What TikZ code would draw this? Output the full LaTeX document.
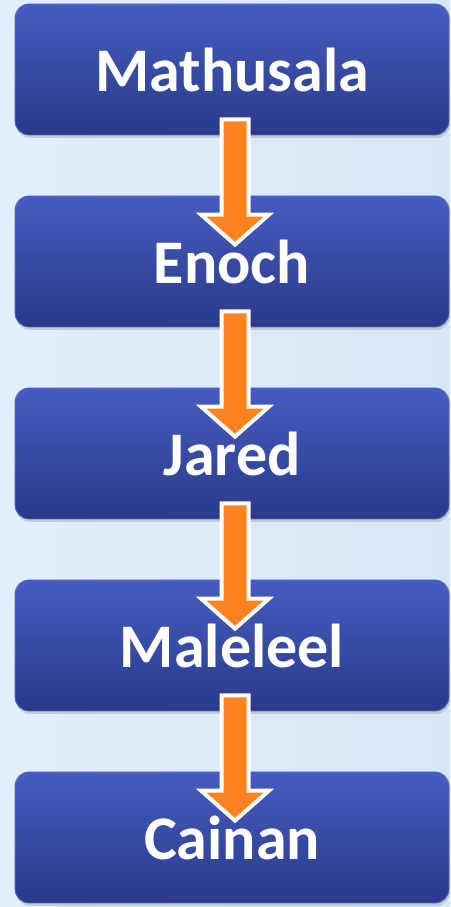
\documentclass[tikz,border=0pt]{standalone}
\usepackage{fontspec}
\setmainfont{Carlito}
\usetikzlibrary{calc,shadows}

\definecolor{fondoizq}{RGB}{226,239,251}
\definecolor{fondomedio}{RGB}{247,250,254}
\definecolor{fondoder}{RGB}{214,232,248}
\definecolor{cajaarriba}{RGB}{69,92,192}
\definecolor{cajaabajo}{RGB}{42,58,138}
\definecolor{cajaborde}{RGB}{86,106,200}
\definecolor{naranja}{RGB}{253,130,32}

\begin{document}
\begin{tikzpicture}[x=1pt,y=1pt,
    caja/.style={
      minimum width=434pt,
      minimum height=131pt,
      rounded corners=14pt,
      top color=cajaarriba,
      bottom color=cajaabajo,
      draw=cajaborde,
      line width=0.8pt,
      drop shadow={shadow xshift=1pt, shadow yshift=-3pt, opacity=0.3},
      text=white,
      font=\bfseries\fontsize{62}{70}\selectfont
    },
    flecha/.style={fill=naranja, draw=white, line width=4pt, line join=miter}]
  % fondo
  \shade[left color=fondoizq, middle color=fondomedio, right color=fondoder]
    (0,0) rectangle (450,907);
  \useasboundingbox (0,0) rectangle (450,907);

  \node (mathusala) [caja] at (232,837.5) {Mathusala};
  \node (enoch)     [caja] at (232,645.5) {Enoch};
  \node (jared)     [caja] at (232,453.5) {Jared};
  \node (maleleel)  [caja] at (232,261.5) {Maleleel};
  \node (cainan)    [caja] at (232,69.5)  {Cainan};

  % flechas de una caja a la siguiente
  \foreach \a/\b in {mathusala/enoch, enoch/jared, jared/maleleel, maleleel/cainan}
    \draw[flecha] ($(\a.south)+(-10.5,16)$) -- ($(\a.south)+(16.5,16)$)
      -- ($(\b.north)+(16.5,-19)$) -- ($(\b.north)+(37,-19)$)
      -- ($(\b.north)+(3,-49)$) -- ($(\b.north)+(-31,-19)$)
      -- ($(\b.north)+(-10.5,-19)$) -- cycle;
\end{tikzpicture}
\end{document}
